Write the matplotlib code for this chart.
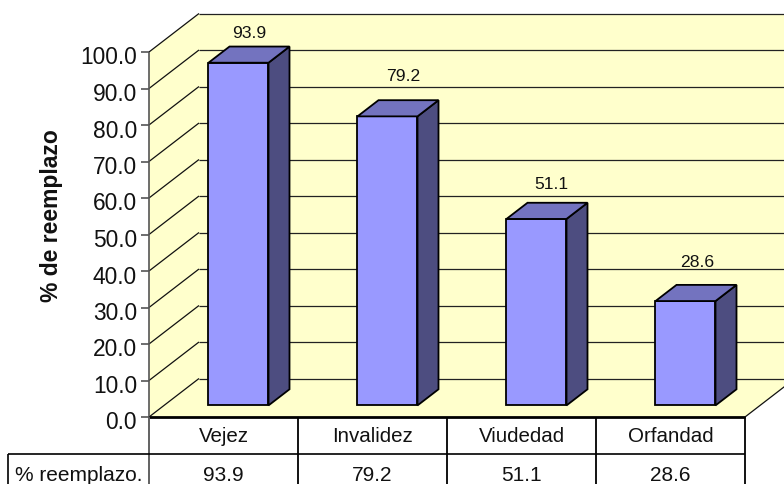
import matplotlib
matplotlib.use("Agg")
import matplotlib.pyplot as plt

categories = ["Vejez", "Invalidez", "Viudedad", "Orfandad"]
values = [93.9, 79.2, 51.1, 28.6]
value_texts = ["93.9", "79.2", "51.1", "28.6"]
y_ticks = [0, 10, 20, 30, 40, 50, 60, 70, 80, 90, 100]
series_name = "% reemplazo."
y_label = "% de reemplazo"

plt.rcParams['font.family'] = ['Liberation Sans', 'DejaVu Sans']

W, H = 784, 485
PX_X = 149.0   # pixels per category
PX_Y = 3.65    # pixels per value unit
X0, Y0 = 149.0, 418.0
DEPTH_X, DEPTH_Y = 50.0, 38.5

fig = plt.figure(figsize=(W / 100, H / 100), dpi=100)
ax = fig.add_axes([0, 0, 1, 1])
ax.set_xlim(-X0 / PX_X, (W - X0) / PX_X)
ax.set_ylim(-(H - Y0) / PX_Y, Y0 / PX_Y)
ax.axis("off")

dx_unit = DEPTH_X / PX_X
dy_unit = DEPTH_Y / PX_Y
n = len(categories)
ymax = y_ticks[-1]


def P(x, y, d=0.0):
    return (x + d * dx_unit, y + d * dy_unit)


def poly(points, color, lw=0.0, ec="none", z=1):
    xs, ys = zip(*points)
    ax.fill(xs, ys, facecolor=color, edgecolor=ec, linewidth=lw, zorder=z, joinstyle="miter")


def line(a, b, color="black", lw=1.0, z=2):
    ax.plot([a[0], b[0]], [a[1], b[1]], color=color, lw=lw, zorder=z, solid_capstyle="butt")


WALL = "#FFFFCC"
# walls and floor
poly([P(0, 0), P(0, 0, 1), P(0, ymax, 1), P(0, ymax)], WALL)
poly([P(0, 0, 1), P(n, 0, 1), P(n, ymax, 1), P(0, ymax, 1)], WALL)
poly([P(0, 0), P(n, 0), P(n, 0, 1), P(0, 0, 1)], WALL)

# gridlines
for t in y_ticks:
    line(P(0, t), P(0, t, 1), "#111111", 0.9)
    line(P(0, t, 1), P(n, t, 1), "#222222", 0.9)
line(P(n, 0), P(n, 0, 1), "#111111", 0.9)

# bars
HALF = 30.0 / PX_X
D_FRONT, D_BACK = 0.30, 0.72
for i, v in enumerate(values):
    c = i + 0.5
    l, r = c - HALF, c + HALF
    poly([P(l, 0, D_FRONT), P(r, 0, D_FRONT), P(r, v, D_FRONT), P(l, v, D_FRONT)],
         "#9999FF", 1.3, "black", 4)
    poly([P(r, 0, D_FRONT), P(r, 0, D_BACK), P(r, v, D_BACK), P(r, v, D_FRONT)],
         "#4D4D80", 1.3, "black", 4)
    poly([P(l, v, D_FRONT), P(r, v, D_FRONT), P(r, v, D_BACK), P(l, v, D_BACK)],
         "#7373BF", 1.3, "black", 4)

# value labels
label_offsets = [(11, 30), (16, 41), (15, 35), (12, 40)]
for i, (v, txt) in enumerate(zip(values, value_texts)):
    ax.annotate(txt, P(i + 0.5, v, D_FRONT), xytext=label_offsets[i],
                textcoords="offset pixels", ha="center", va="center",
                fontsize=12.6, zorder=6, color="#111111")

# y axis
line(P(0, 0), P(0, ymax), "#555555", 1.2, 5)
for t in y_ticks:
    ax.plot([0, -8 / PX_X], [t, t], color="#555555", lw=1.2, zorder=5, solid_capstyle="butt")
    ax.annotate(f"{t:.1f}", (0, t), xytext=(-12, -5), textcoords="offset pixels",
                ha="right", va="center", fontsize=16.4, color="#111111")
ax.annotate(y_label, (0, ymax / 2), xytext=(-97, 20), textcoords="offset pixels",
            ha="center", va="center", rotation=90, fontsize=16.5, fontweight="bold",
            color="#111111")

# data table
row1 = -(455 - Y0) / PX_Y
row_bottom = -(H - Y0 + 5) / PX_Y
left_box = (8 - X0) / PX_X
line((0, 0), (n, 0), "black", 2.0, 5)
line((0, 0), (0, row_bottom), "#555555", 1.3, 5)
for k in range(1, n + 1):
    line((k, 0), (k, row_bottom), "black", 1.3, 5)
line((left_box, row1), (n, row1), "black", 1.2, 5)
line((left_box, row1), (left_box, row_bottom), "black", 1.2, 5)

y_cat = -(437 - Y0) / PX_Y
y_val = -(476 - Y0) / PX_Y
for i, (cat, txt) in enumerate(zip(categories, value_texts)):
    ax.text(i + 0.5, y_cat, cat, ha="center", va="center", fontsize=14.8, color="#111111")
    ax.text(i + 0.5, y_val, txt, ha="center", va="center", fontsize=15, color="#111111")
ax.text(left_box / 2, y_val, series_name, ha="center", va="center", fontsize=15, color="#111111")

fig.savefig("out.png", dpi=100)
